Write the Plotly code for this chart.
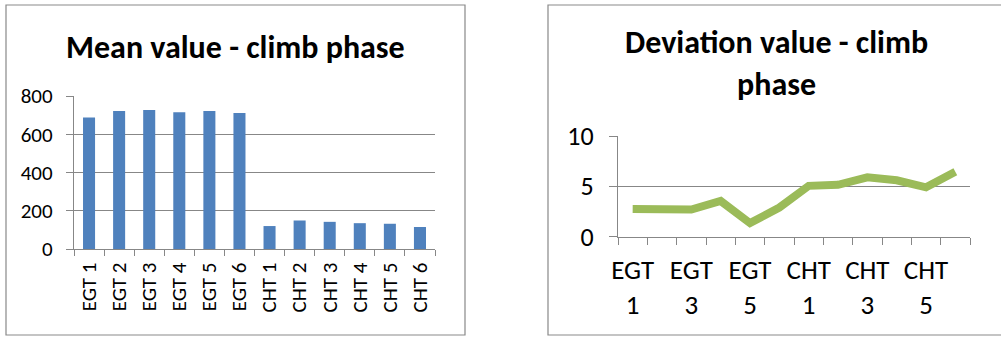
import plotly.graph_objects as go

# --- data -------------------------------------------------------------
categories = ["EGT 1", "EGT 2", "EGT 3", "EGT 4", "EGT 5", "EGT 6",
              "CHT 1", "CHT 2", "CHT 3", "CHT 4", "CHT 5", "CHT 6"]
mean_values = [688, 722, 727, 715, 722, 711, 120, 149, 142, 135, 132, 115]
deviation_values = [2.75, 2.8, 2.7, 3.55, 1.35, 2.9, 5.05, 5.15, 5.9, 5.6, 4.9, 6.45]
mean_ticks = [0, 200, 400, 600, 800]
dev_ticks = [0, 5, 10]

# --- styling ----------------------------------------------------------
W, H = 1001, 338
FONT = "Carlito, Calibri, 'DejaVu Sans Condensed', sans-serif"
GRID = "#878787"
BAR = "#4F81BD"
LINE = "#9BBB59"


def px_x(p):
    return p / W


def px_y(p):
    return (H - p) / H


fig = go.Figure()

fig.add_trace(go.Bar(x=categories, y=mean_values, marker_color=BAR,
                     marker_line_width=0, xaxis="x", yaxis="y"))

dev_x = list(range(len(categories)))
fig.add_trace(go.Scatter(x=dev_x, y=deviation_values, mode="lines",
                         line=dict(color=LINE, width=8),
                         xaxis="x2", yaxis="y2"))

# labels shown on every other category, split over two lines
label_idx = dev_x[::2]
label_txt = [categories[i].replace(" ", "<br>") for i in label_idx]

axis_common = dict(showline=True, linecolor=GRID, linewidth=1.3,
                   tickcolor=GRID, tickwidth=1.3, zeroline=False,
                   automargin=False)

fig.update_layout(
    width=W, height=H,
    margin=dict(l=0, r=0, t=0, b=0, autoexpand=False),
    paper_bgcolor="white", plot_bgcolor="white",
    showlegend=False, bargap=0.6,
    font=dict(family=FONT, color="black"),
    xaxis=dict(domain=[px_x(74), px_x(435)], type="category",
               categoryorder="array", categoryarray=categories,
               tickson="boundaries", ticks="outside", ticklen=6,
               tickangle=-90, tickfont=dict(size=21),
               ticklabelstandoff=4, showgrid=False, anchor="y",
               **axis_common),
    yaxis=dict(domain=[px_y(249), px_y(96)], range=[0, 800],
               tickvals=mean_ticks, ticks="outside", ticklen=7,
               tickfont=dict(size=21), ticklabelstandoff=9,
               showgrid=True, gridcolor=GRID, gridwidth=1.3, anchor="x",
               **axis_common),
    xaxis2=dict(domain=[px_x(618), px_x(970)], range=[-0.5, 11.5],
                tickvals=label_idx, ticktext=label_txt, ticks="",
                tickfont=dict(size=27), ticklabelstandoff=9,
                minor=dict(ticks="outside", tick0=-0.5, dtick=1, ticklen=7,
                           tickcolor=GRID, tickwidth=1.3, showgrid=False),
                showgrid=False, anchor="y2", **axis_common),
    yaxis2=dict(domain=[px_y(236.7), px_y(136)], range=[0, 10],
                tickvals=dev_ticks, ticks="outside", ticklen=8,
                tickfont=dict(size=26), ticklabelstandoff=10,
                showgrid=True, gridcolor=GRID, gridwidth=1.3, anchor="x2",
                **axis_common),
)

# chart titles
fig.add_annotation(text="<b>Mean value - climb phase</b>", x=px_x(235), y=px_y(47),
                   xref="paper", yref="paper", showarrow=False,
                   font=dict(size=32), xanchor="center", yanchor="middle")
fig.add_annotation(text="<b>Deviation value - climb<br>phase</b>", x=px_x(776), y=px_y(64),
                   xref="paper", yref="paper", showarrow=False,
                   font=dict(size=32), xanchor="center", yanchor="middle")

# chart frames
fig.add_shape(type="rect", xref="paper", yref="paper",
              x0=px_x(6), x1=px_x(465), y0=px_y(335), y1=px_y(5),
              line=dict(color="#898989", width=1.2), layer="below")
fig.add_shape(type="rect", xref="paper", yref="paper",
              x0=px_x(548), x1=px_x(1010), y0=px_y(335), y1=px_y(5),
              line=dict(color="#898989", width=1.2), layer="below")

fig.write_html("out.html")
